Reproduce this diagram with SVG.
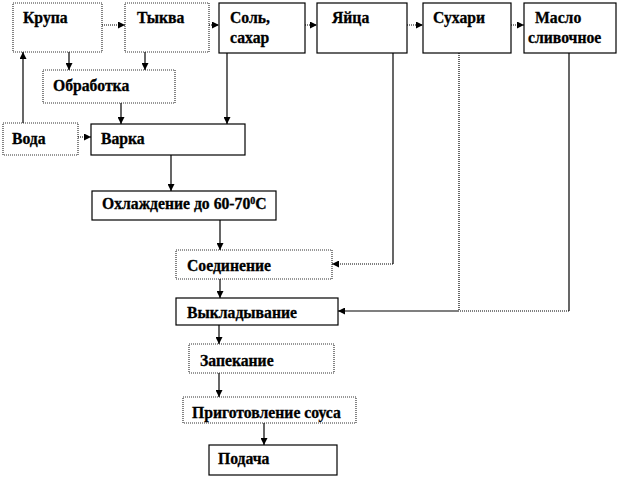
<svg xmlns="http://www.w3.org/2000/svg" width="620" height="478" viewBox="0 0 620 478">
<style>
g rect{fill:#fff;stroke:#000;stroke-width:1.2}
g rect.dot{stroke:#333;stroke-dasharray:1 1}
text{font-family:"Liberation Serif","Times New Roman",serif;font-weight:bold;font-size:15.7px;fill:#000;stroke:#000;stroke-width:0.3}
.c line,.c polyline{fill:none;stroke:#000;stroke-width:1.2}
.c .d{stroke-dasharray:1 1}
</style>
<defs>
<marker id="a" viewBox="0 0 8 8" refX="8" refY="4" markerWidth="7" markerHeight="7" markerUnits="userSpaceOnUse" orient="auto">
<path d="M0,0L8,4L0,8z" fill="#000"/>
</marker>
</defs>
<rect width="620" height="478" fill="#fff"/>
<g id="krupa"><rect class="dot" x="13" y="3" width="89" height="49"/><text x="23" y="23">Крупа</text></g>
<g id="tykva"><rect class="dot" x="125" y="3" width="84" height="49"/><text x="137" y="23">Тыква</text></g>
<g id="sol"><rect x="219" y="3" width="86" height="50"/><text x="230" y="23">Соль,</text><text x="230" y="43">сахар</text></g>
<g id="yaytsa"><rect x="317" y="3" width="90" height="50"/><text x="332" y="23">Яйца</text></g>
<g id="sukhari"><rect x="423" y="3" width="88" height="50"/><text x="433" y="23">Сухари</text></g>
<g id="maslo"><rect x="524" y="3" width="92" height="50"/><text x="535" y="23">Масло</text><text x="528" y="43">сливочное</text></g>
<g id="obrabotka"><rect class="dot" x="43" y="70" width="132" height="33"/><text x="53" y="91">Обработка</text></g>
<g id="voda"><rect class="dot" x="3" y="123" width="75" height="32"/><text x="12" y="144">Вода</text></g>
<g id="varka"><rect x="91" y="124" width="154" height="31"/><text x="101" y="144">Варка</text></g>
<g id="okhl"><rect x="92" y="191" width="184" height="29"/><text x="102" y="209">Охлаждение до 60-70<tspan dy="-5" font-size="10">0</tspan><tspan dy="5">С</tspan></text></g>
<g id="soed"><rect class="dot" x="176" y="250" width="156" height="29"/><text x="187" y="271">Соединение</text></g>
<g id="vykl"><rect x="176" y="298" width="162" height="27"/><text x="187" y="318">Выкладывание</text></g>
<g id="zapek"><rect class="dot" x="189" y="344" width="145" height="29"/><text x="200" y="366">Запекание</text></g>
<g id="sous"><rect class="dot" x="183" y="397" width="173" height="26"/><text x="192" y="418">Приготовление соуса</text></g>
<g id="podacha"><rect x="209" y="445" width="128" height="30"/><text x="218" y="464">Подача</text></g>
<g class="c" id="connectors">
<line class="d" x1="102" y1="25" x2="125" y2="25" marker-end="url(#a)"/>
<line class="d" x1="209" y1="25" x2="219" y2="25" marker-end="url(#a)"/>
<line class="d" x1="305" y1="25" x2="317" y2="25" marker-end="url(#a)"/>
<line class="d" x1="407" y1="25" x2="423" y2="25" marker-end="url(#a)"/>
<line class="d" x1="511" y1="25" x2="524" y2="25" marker-end="url(#a)"/>
<line x1="69" y1="52" x2="69" y2="70" marker-end="url(#a)"/>
<line x1="145" y1="52" x2="145" y2="70" marker-end="url(#a)"/>
<line x1="121" y1="103" x2="121" y2="124" marker-end="url(#a)"/>
<line x1="227" y1="53" x2="227" y2="124" marker-end="url(#a)"/>
<line x1="23" y1="123" x2="23" y2="52" marker-end="url(#a)"/>
<line class="d" x1="78" y1="137" x2="91" y2="137" marker-end="url(#a)"/>
<line x1="171" y1="155" x2="171" y2="191" marker-end="url(#a)"/>
<line x1="220" y1="220" x2="220" y2="250" marker-end="url(#a)"/>
<polyline points="393,53 393,264"/>
<line class="d" x1="393" y1="264" x2="332" y2="264" marker-end="url(#a)"/>
<line class="d" x1="459" y1="53" x2="459" y2="311"/>
<line x1="569" y1="53" x2="569" y2="311"/>
<line class="d" x1="569" y1="311" x2="459" y2="311"/>
<line x1="459" y1="311" x2="338" y2="311" marker-end="url(#a)"/>
<line x1="220" y1="279" x2="220" y2="298" marker-end="url(#a)"/>
<line x1="219" y1="325" x2="219" y2="344" marker-end="url(#a)"/>
<line x1="219" y1="373" x2="219" y2="397" marker-end="url(#a)"/>
<line x1="264" y1="423" x2="264" y2="445" marker-end="url(#a)"/>
</g>
</svg>
